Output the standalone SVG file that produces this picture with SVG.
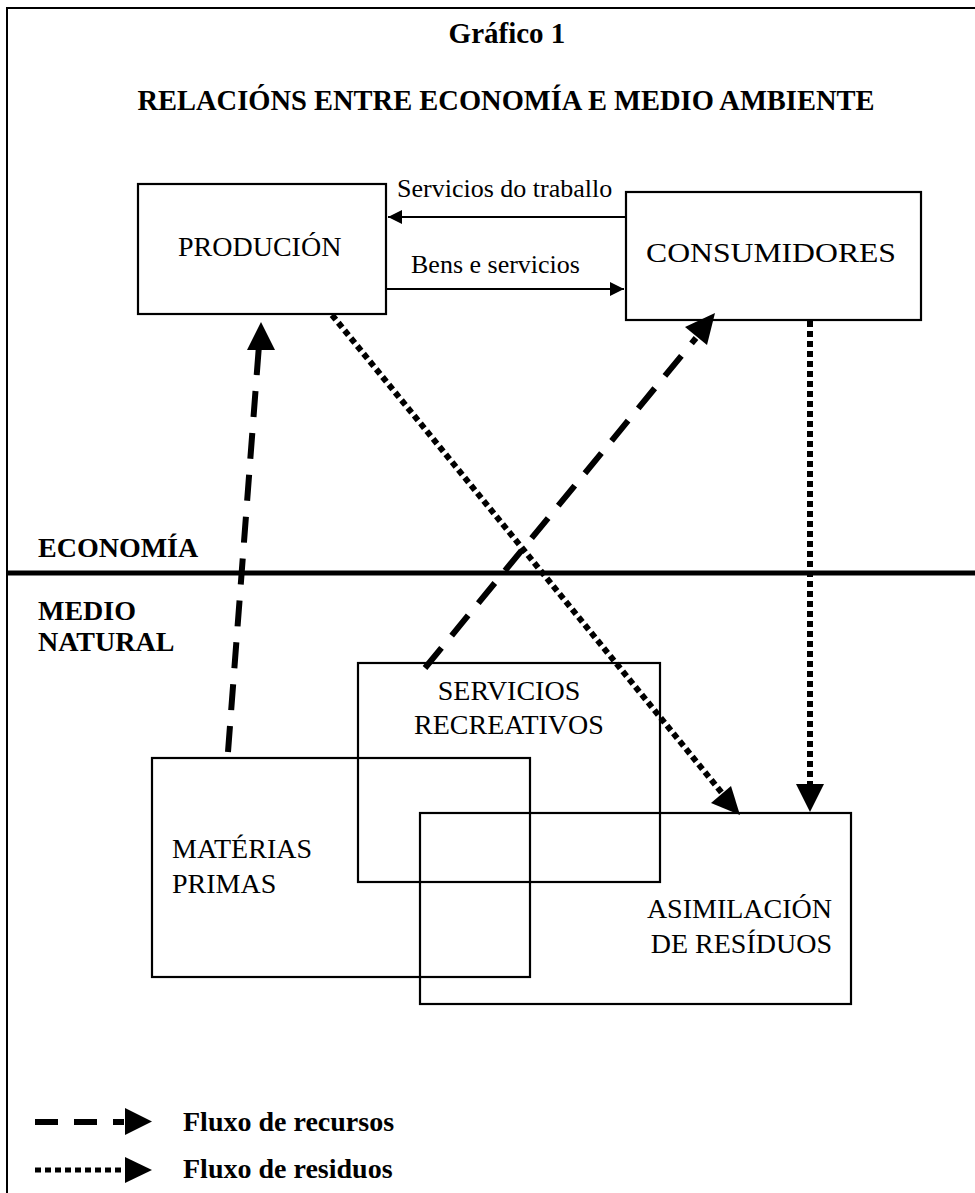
<svg xmlns="http://www.w3.org/2000/svg" width="975" height="1193" viewBox="0 0 975 1193">
<defs>
<style>
.box{fill:none;stroke:#000;stroke-width:2.2}
.t{font-family:"Liberation Serif","Times New Roman",serif;fill:#000}
.lbl{font-size:28px}
.small{font-size:26px}
.b{font-weight:bold}
.thin{stroke:#000;stroke-width:2;fill:none}
.dash{stroke:#000;stroke-width:6;fill:none;stroke-dasharray:26 16}
.dot{stroke:#000;stroke-width:6;fill:none;stroke-dasharray:6 4}
</style>
<marker id="ah" viewBox="0 0 10 10" refX="10" refY="5" markerWidth="20" markerHeight="14" markerUnits="userSpaceOnUse" orient="auto">
<path d="M0,0 L10,5 L0,10 Z" fill="#000"/>
</marker>
</defs>
<rect width="975" height="1193" fill="#fff"/>
<g id="frame">
<line x1="6" y1="8" x2="975" y2="8" stroke="#000" stroke-width="2"/>
<line x1="7" y1="8" x2="7" y2="1193" stroke="#000" stroke-width="2"/>
<line x1="6" y1="573" x2="975" y2="573" stroke="#000" stroke-width="5"/>
</g>
<g id="titles">
<text class="t b" x="507" y="43" font-size="29" text-anchor="middle">Gráfico 1</text>
<text class="t b" x="506" y="110" font-size="28.5" text-anchor="middle">RELACIÓNS ENTRE ECONOMÍA E MEDIO AMBIENTE</text>
<text class="t b lbl" x="38" y="557">ECONOMÍA</text>
<text class="t b lbl" x="38" y="620">MEDIO</text>
<text class="t b lbl" x="38" y="651">NATURAL</text>
</g>
<g id="producion">
<rect class="box" x="138" y="184" width="248" height="130"/>
<text class="t lbl" x="178" y="256">PRODUCIÓN</text>
</g>
<g id="consumidores">
<rect class="box" x="626" y="192" width="295" height="128"/>
<text class="t lbl" x="646" y="262" textLength="250" lengthAdjust="spacingAndGlyphs">CONSUMIDORES</text>
</g>
<g id="servicios-recreativos">
<rect class="box" x="358" y="663" width="302" height="219"/>
<text class="t lbl" x="509" y="700" text-anchor="middle">SERVICIOS</text>
<text class="t lbl" x="509" y="734" text-anchor="middle">RECREATIVOS</text>
</g>
<g id="materias-primas">
<rect class="box" x="152" y="758" width="378" height="219"/>
<text class="t lbl" x="172" y="858">MATÉRIAS</text>
<text class="t lbl" x="172" y="893">PRIMAS</text>
</g>
<g id="asimilacion">
<rect class="box" x="420" y="813" width="431" height="191"/>
<text class="t lbl" x="832" y="918" text-anchor="end">ASIMILACIÓN</text>
<text class="t lbl" x="832" y="953" text-anchor="end">DE RESÍDUOS</text>
</g>
<g id="connectors">
<line class="thin" x1="626" y1="217" x2="388" y2="217" marker-end="url(#ah)"/>
<text class="t small" x="397" y="197">Servicios do traballo</text>
<line class="thin" x1="386" y1="289" x2="624" y2="289" marker-end="url(#ah)"/>
<text class="t small" x="411" y="273">Bens e servicios</text>
<line class="dash" x1="228" y1="752" x2="259" y2="345"/>
<path d="M261,322 L275,350 L247,350 Z" fill="#000"/>
<line class="dash" x1="425" y1="668" x2="696" y2="338"/>
<path d="M715,313 L707,345 L685,327 Z" fill="#000"/>
<line class="dot" x1="332" y1="315" x2="722" y2="793"/>
<path d="M740,815 L711,803 L731,786 Z" fill="#000"/>
<line class="dot" x1="810" y1="321" x2="810" y2="786"/>
<path d="M810,812 L796,784 L824,784 Z" fill="#000"/>
</g>
<g id="legend">
<line x1="35" y1="1122" x2="124" y2="1122" stroke="#000" stroke-width="6" stroke-dasharray="23 16"/>
<path d="M152,1121.5 L125,1108 L125,1135 Z" fill="#000"/>
<text class="t b lbl" x="183" y="1131">Fluxo de recursos</text>
<line x1="35" y1="1170" x2="126" y2="1170" stroke="#000" stroke-width="5" stroke-dasharray="6 4"/>
<path d="M152,1170 L125,1157 L125,1183 Z" fill="#000"/>
<text class="t b lbl" x="183" y="1178">Fluxo de residuos</text>
</g>
</svg>
